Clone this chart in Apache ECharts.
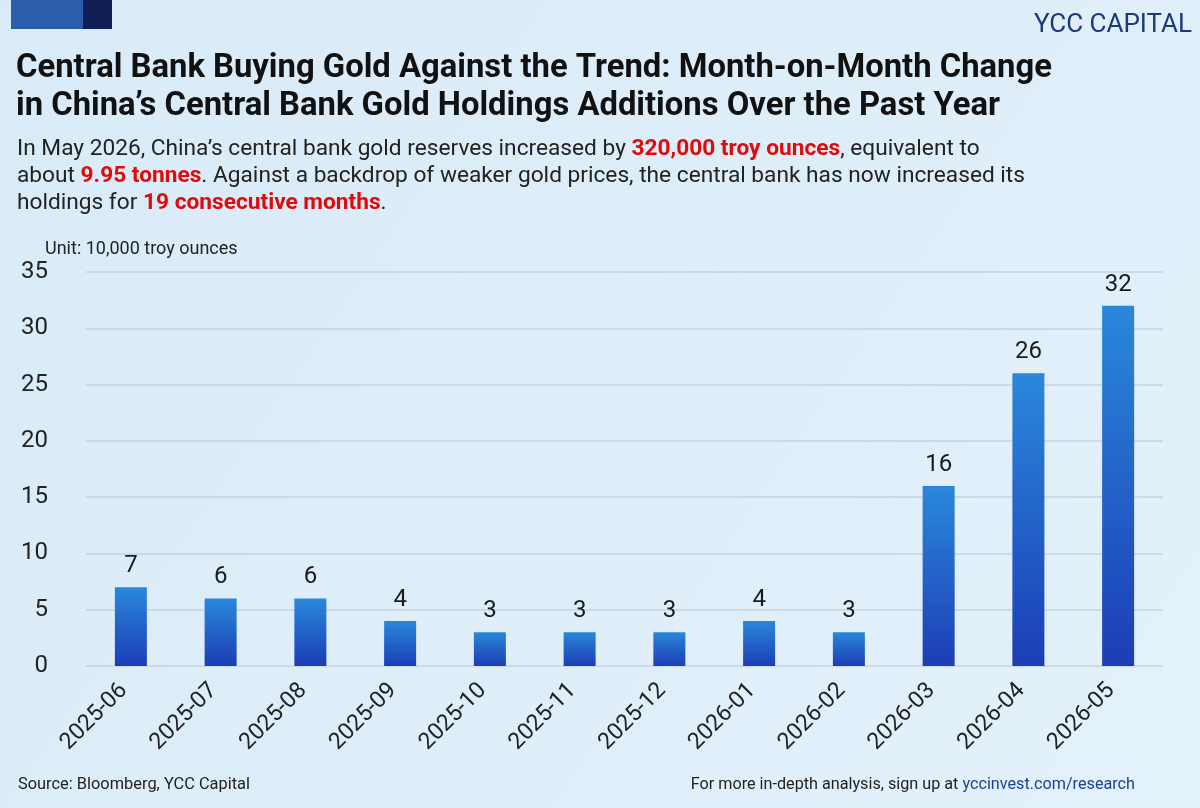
<!DOCTYPE html>
<html>
<head>
<meta charset="utf-8">
<script src="https://cdn.jsdelivr.net/npm/echarts@6/dist/echarts.min.js"></script>
<style>
  html, body { margin: 0; padding: 0; }
  #chart { width: 1200px; height: 808px; }
</style>
</head>
<body>
<div id="chart"></div>
<script>
// Data (unit: 10,000 troy ounces)
const months = ['2025-06', '2025-07', '2025-08', '2025-09', '2025-10', '2025-11',
  '2025-12', '2026-01', '2026-02', '2026-03', '2026-04', '2026-05'];
const additions = [7, 6, 6, 4, 3, 3, 3, 4, 3, 16, 26, 32];

const FONT = 'Roboto, "Noto Sans", sans-serif';
const chart = echarts.init(document.getElementById('chart'));

chart.setOption({
  backgroundColor: new echarts.graphic.LinearGradient(0, 0, 1, 1, [
    { offset: 0, color: '#d9ebf8' },
    { offset: 1, color: '#e3f1fa' }
  ]),
  textStyle: { fontFamily: FONT },
  graphic: [
    // corner blocks
    { type: 'rect', left: 11, top: 0, shape: { width: 72, height: 29 }, style: { fill: '#2a5ead' } },
    { type: 'rect', left: 83, top: 0, shape: { width: 29, height: 29 }, style: { fill: '#121f55' } },
    {
      type: 'text', right: 8, top: 12,
      style: { text: 'YCC CAPITAL', font: '400 26px ' + FONT, fill: '#1b3a7a' }
    },
    {
      type: 'text', left: 16, top: 50,
      style: {
        text: 'Central Bank Buying Gold Against the Trend: Month-on-Month Change\nin China\u2019s Central Bank Gold Holdings Additions Over the Past Year',
        font: 'bold 32.8px ' + FONT, fill: '#111111', lineHeight: 38
      }
    },
    {
      type: 'text', left: 17, top: 138,
      style: {
        text: '{n|In May 2026, China\u2019s central bank gold reserves increased by }{r|320,000 troy ounces}{n|, equivalent to}\n' +
          '{n|about }{r|9.95 tonnes}{n|. Against a backdrop of weaker gold prices, the central bank has now increased its}\n' +
          '{n|holdings for }{r|19 consecutive months}{n|.}',
        rich: {
          n: { font: '400 22.7px ' + FONT, fill: '#222222', lineHeight: 27 },
          r: { font: 'bold 22.7px ' + FONT, fill: '#e00a0a', lineHeight: 27 }
        }
      }
    },
    {
      type: 'text', left: 45, top: 240,
      style: { text: 'Unit: 10,000 troy ounces', font: '400 18px ' + FONT, fill: '#222222' }
    },
    {
      type: 'text', left: 18, top: 777,
      style: { text: 'Source: Bloomberg, YCC Capital', font: '400 16.4px ' + FONT, fill: '#222222' }
    },
    {
      type: 'text', right: 65, top: 777,
      style: {
        text: '{a|For more in-depth analysis, sign up at }{b|yccinvest.com/research}',
        rich: {
          a: { font: '400 16.2px ' + FONT, fill: '#222222' },
          b: { font: '400 16.2px ' + FONT, fill: '#1b3f96' }
        }
      }
    }
  ],
  grid: { left: 86, right: 37, top: 272, height: 394 },
  xAxis: {
    type: 'category',
    data: months,
    axisLine: { show: false },
    axisTick: { show: false },
    axisLabel: {
      rotate: 45, fontSize: 23, color: '#222222', margin: 14, interval: 0,
      padding: [0, 10, 0, 0]
    }
  },
  yAxis: {
    type: 'value',
    min: 0,
    max: 35,
    interval: 5,
    axisLine: { show: false },
    axisTick: { show: false },
    axisLabel: { fontSize: 24, color: '#222222', margin: 38 },
    splitLine: { lineStyle: { color: '#c3d4e0', width: 1.5 } }
  },
  series: [{
    type: 'bar',
    data: additions,
    barWidth: 32,
    itemStyle: {
      color: new echarts.graphic.LinearGradient(0, 0, 0, 1, [
        { offset: 0, color: '#2a88da' },
        { offset: 1, color: '#1c3db6' }
      ])
    },
    label: { show: true, position: 'top', fontSize: 24, color: '#1a1a1a', distance: 9 }
  }]
});
</script>
</body>
</html>
